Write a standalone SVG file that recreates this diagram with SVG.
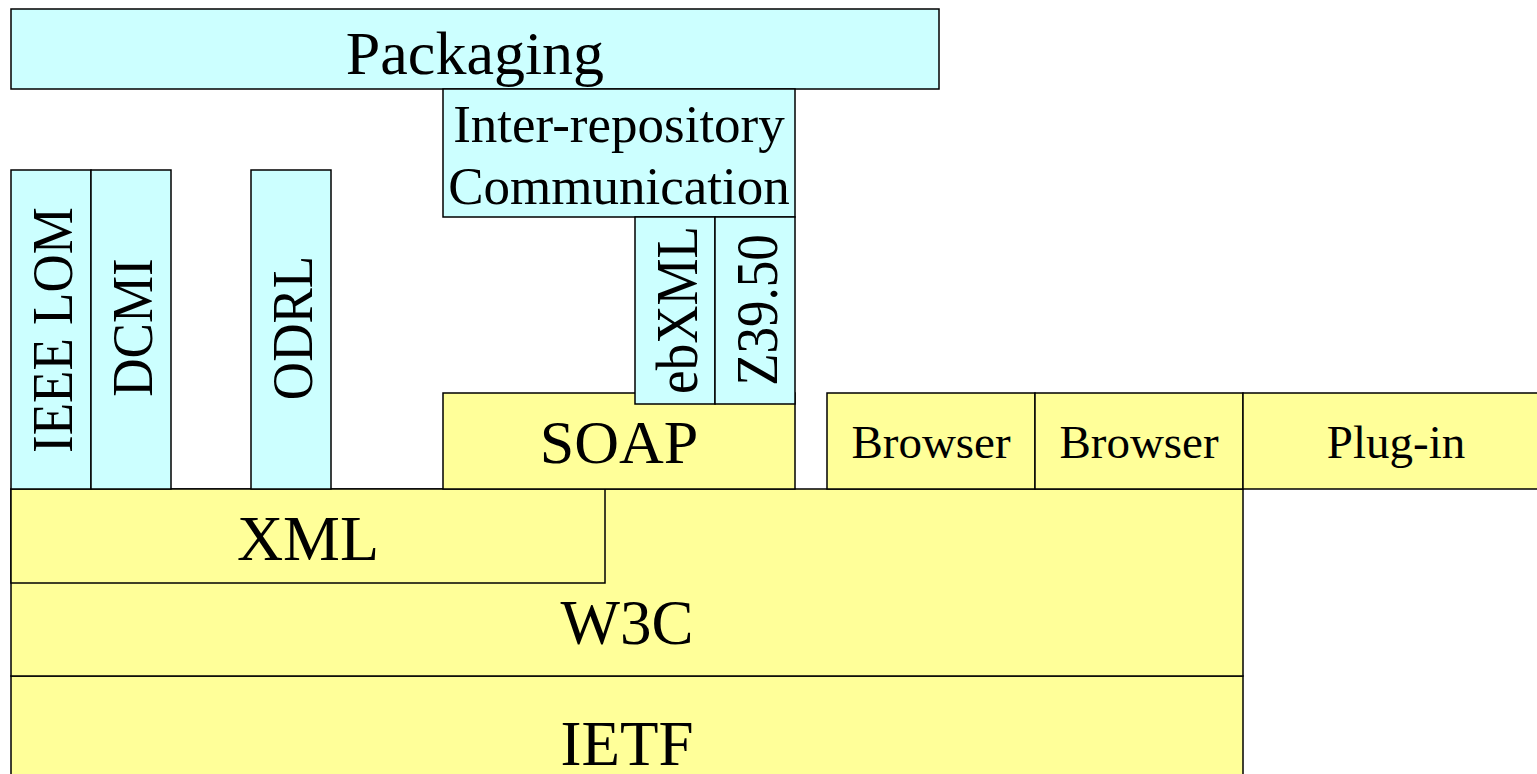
<svg xmlns="http://www.w3.org/2000/svg" width="1537" height="774" viewBox="0 0 1537 774">
<style>
.c{fill:#CCFFFF;stroke:#000;stroke-width:1.5}
.y{fill:#FFFF99;stroke:#000;stroke-width:1.5}
text{font-family:"Liberation Serif","Times New Roman",serif;fill:#000;text-anchor:middle}
</style>
<rect width="1537" height="774" fill="#fff"/>
<g id="ietf"><rect class="y" x="11" y="676" width="1232" height="120"/><text x="627" y="765" font-size="63">IETF</text></g>
<g id="w3c"><rect class="y" x="11" y="489" width="1232" height="187"/><text x="627" y="644" font-size="63">W3C</text></g>
<g id="xml"><rect class="y" x="11" y="489" width="594" height="94"/><text x="308" y="560" font-size="64">XML</text></g>
<g id="soap"><rect class="y" x="443" y="393" width="352" height="96"/><text x="619" y="463" font-size="62">SOAP</text></g>
<g id="browser1"><rect class="y" x="827" y="393" width="208" height="96"/><text x="931" y="458" font-size="47">Browser</text></g>
<g id="browser2"><rect class="y" x="1035" y="393" width="208" height="96"/><text x="1139" y="458" font-size="47">Browser</text></g>
<g id="plugin"><rect class="y" x="1243" y="393" width="310" height="96"/><text x="1396" y="458" font-size="47">Plug-in</text></g>
<g id="packaging"><rect class="c" x="11" y="9" width="928" height="80"/><text x="475" y="74" font-size="62">Packaging</text></g>
<g id="interrepo"><rect class="c" x="443" y="89" width="352" height="128"/><text x="619" y="142" font-size="53">Inter-repository</text><text x="619" y="204" font-size="53">Communication</text></g>
<g id="ieeelom"><rect class="c" x="11" y="170" width="80" height="319"/><text transform="translate(72,330) rotate(-90) scale(1,1.08)" font-size="53">IEEE LOM</text></g>
<g id="dcmi"><rect class="c" x="91" y="170" width="80" height="319"/><text transform="translate(152,327.5) rotate(-90) scale(1,1.08)" font-size="53">DCMI</text></g>
<g id="odrl"><rect class="c" x="251" y="170" width="80" height="319"/><text transform="translate(312,328) rotate(-90) scale(1,1.08)" font-size="53">ODRL</text></g>
<g id="ebxml"><rect class="c" x="635" y="217" width="80" height="187"/><text transform="translate(697,310) rotate(-90) scale(1,1.1)" font-size="53">ebXML</text></g>
<g id="z3950"><rect class="c" x="715" y="217" width="80" height="187"/><text transform="translate(777,310) rotate(-90) scale(1,1.1)" font-size="53">Z39.50</text></g>
<g id="connectors"></g>
</svg>
